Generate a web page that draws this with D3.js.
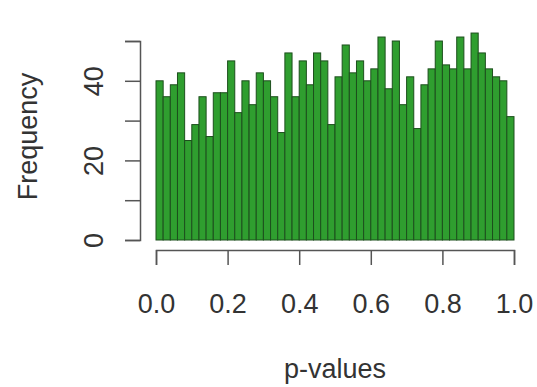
<!DOCTYPE html>
<html>
<head>
<meta charset="utf-8">
<script src="https://cdn.jsdelivr.net/npm/d3@7"></script>
<style>
  body { margin: 0; background: #fff; }
  svg { display: block; font-family: "Liberation Sans", Arial, sans-serif; }
</style>
</head>
<body>
<div id="chart"></div>
<script>
// histogram of p-values, 50 bins of width 0.02
const binStart = d3.range(0, 1, 0.02);
const counts = [
  40, 36, 39, 42, 25, 29, 36, 26, 37, 37,
  45, 32, 40, 34, 42, 40, 36, 27, 47, 36,
  45, 39, 47, 45, 29, 41, 49, 42, 45, 40,
  43, 51, 38, 50, 34, 41, 28, 39, 43, 50,
  44, 43, 51, 43, 52, 47, 43, 41, 40, 31
];
const xTicks = [0, 0.2, 0.4, 0.6, 0.8, 1.0];
const yTicks = [0, 10, 20, 30, 40, 50];
const yLabelled = [0, 20, 40];

const width = 537;
const height = 387;
const fontSize = 27;

const svg = d3.select("#chart")
  .append("svg")
  .attr("width", width)
  .attr("height", height);

const x = d3.scaleLinear().domain([0, 1]).range([156, 514]);
const y = d3.scaleLinear().domain([0, 50]).range([240, 41]);

// bars
svg.append("g")
  .selectAll("rect")
  .data(counts)
  .join("rect")
  .attr("x", (d, i) => x(binStart[i]))
  .attr("width", (d, i) => x(binStart[i] + 0.02) - x(binStart[i]))
  .attr("y", d => y(d))
  .attr("height", d => y(0) - y(d))
  .attr("fill", "#2f9e2f")
  .attr("stroke", "#1d4f1d")
  .attr("stroke-width", 1);

// x axis, offset below the bars like base R
const xAxis = svg.append("g")
  .attr("transform", "translate(0, 250)")
  .call(d3.axisBottom(x).tickValues(xTicks).tickFormat(d3.format(".1f"))
    .tickSize(15).tickPadding(20));

xAxis.selectAll("text")
  .attr("font-size", fontSize)
  .attr("fill", "#333")
  .attr("dy", null)
  .attr("dominant-baseline", "auto")
  .attr("y", 63);

// y axis
const yAxis = svg.append("g")
  .attr("transform", "translate(140, 0)")
  .call(d3.axisLeft(y).tickValues(yTicks)
    .tickFormat(d => yLabelled.includes(d) ? d : "")
    .tickSize(15));

yAxis.selectAll(".tick text")
  .attr("font-size", fontSize)
  .attr("fill", "#333")
  .attr("x", null)
  .attr("dy", null)
  .attr("text-anchor", "middle")
  .attr("transform", "translate(-37, 0) rotate(-90)");

svg.selectAll(".domain, .tick line")
  .attr("stroke", "#555")
  .attr("stroke-width", 1.5);

// axis titles
svg.append("text")
  .attr("x", x(0.5))
  .attr("y", 378)
  .attr("text-anchor", "middle")
  .attr("font-size", fontSize)
  .attr("fill", "#333")
  .text("p-values");

svg.append("text")
  .attr("transform", `translate(37, ${y(26)}) rotate(-90)`)
  .attr("text-anchor", "middle")
  .attr("font-size", fontSize)
  .attr("fill", "#333")
  .text("Frequency");
</script>
</body>
</html>
